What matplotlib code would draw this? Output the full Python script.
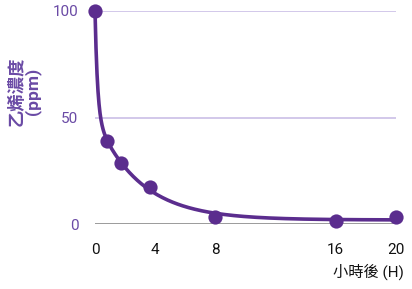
import numpy as np
import matplotlib
matplotlib.use("Agg")
import matplotlib.pyplot as plt

plt.rcParams['font.family'] = ['Roboto', 'Noto Sans CJK TC', 'DejaVu Sans']

# 數據
hours = [0, 0.8, 1.75, 3.65, 8, 16, 20]
ethylene = [100, 39, 28.6, 17.4, 3.3, 1.4, 3.3]
x_ticks = [0, 4, 8, 16, 20]
y_ticks = [0, 50, 100]

purple = '#5b2d8e'
label_purple = '#6a4aa5'

# 趨勢線: 雙指數衰減擬合 (網格搜尋 k1, k2, 最小平方求係數)
x = np.array(hours)
y = np.array(ethylene)
w = np.ones_like(x)
w[0] = 10  # 讓曲線通過起點
best = None
for k1 in np.linspace(0.5, 6, 56):
    for k2 in np.linspace(0.05, 1.0, 40):
        A = np.column_stack([np.exp(-k1 * x), np.exp(-k2 * x), np.ones_like(x)])
        coef, *_ = np.linalg.lstsq(A * w[:, None], y * w, rcond=None)
        err = np.sum((w * (A @ coef - y)) ** 2)
        if best is None or err < best[0]:
            best = (err, k1, k2, coef)
_, k1, k2, coef = best
xs = np.linspace(0, 20, 300)
ys = coef[0] * np.exp(-k1 * xs) + coef[1] * np.exp(-k2 * xs) + coef[2]

fig = plt.figure(figsize=(4.12, 2.89), dpi=100)
ax = fig.add_axes([95 / 412, 1 - 224 / 289, 301 / 412, 213 / 289])

for t in y_ticks[1:]:
    ax.axhline(t, color='#cbbfe6', lw=1.2, zorder=1)
ax.axhline(0, color='#8a8a8a', lw=1.2, zorder=1, xmin=-0.01)

ax.plot(xs, ys, color=purple, lw=2.6, zorder=3, clip_on=False)
ax.scatter(hours, ethylene, s=105, color=purple, zorder=4, clip_on=False, linewidths=0)

ax.set_xlim(0, 20)
ax.set_ylim(0, 100)
ax.set_xticks(x_ticks)
ax.set_yticks(y_ticks)
ax.tick_params(length=0)
ax.tick_params(axis='x', pad=14, labelsize=11, labelcolor='#111111')
ax.tick_params(axis='y', pad=12, labelsize=11, labelcolor=label_purple)
for s in ax.spines.values():
    s.set_visible(False)

fig.text(404 / 412, 1 - 272 / 289, '小時後 (H)', ha='right', va='center', fontsize=11, color='#111111')
fig.text(24 / 412, 1 - 91 / 289, '乙烯濃度\n(ppm)', rotation=90, ha='center', va='center',
         fontsize=12.5, color=label_purple, fontweight='bold', linespacing=0.95)

fig.savefig('out.png', dpi=100)
